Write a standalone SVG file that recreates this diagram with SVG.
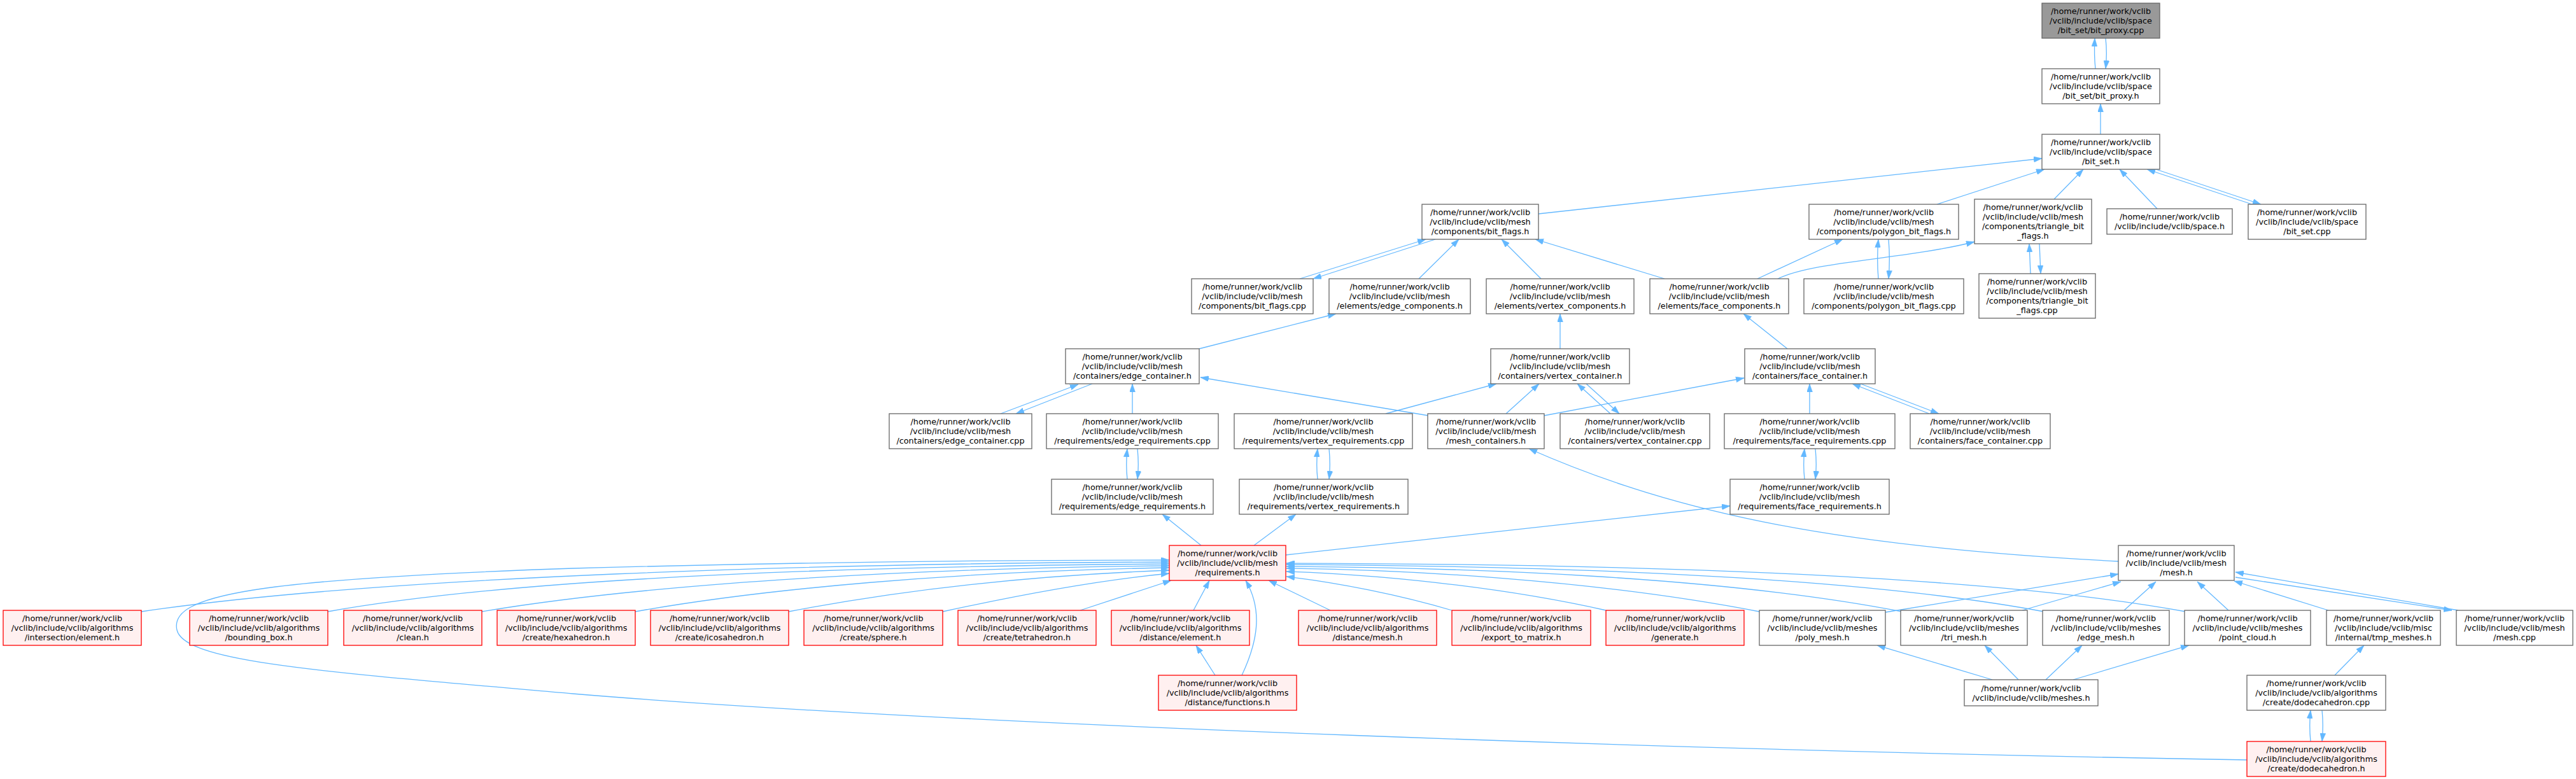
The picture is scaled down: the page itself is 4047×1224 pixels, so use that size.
<svg xmlns="http://www.w3.org/2000/svg" width="4047" height="1224" viewBox="0 0 4047 1224">
<style>
.n{fill:#ffffff;stroke:#666666;stroke-width:1.3}
.r{fill:#fff0f0;stroke:#ff0000;stroke-width:1.3}
.g{fill:#999999;stroke:#666666;stroke-width:1.3}
text{font-family:"DejaVu Sans",sans-serif;font-size:12.8px;fill:#000000;text-anchor:middle}
.e path{fill:none;stroke:#63b8ff;stroke-width:1.3;marker-end:url(#ah)}
</style>
<defs>
<marker id="ah" viewBox="0 0 13 9" refX="13" refY="4.5" markerWidth="13" markerHeight="9" markerUnits="userSpaceOnUse" orient="auto"><path d="M0,0 L13,4.5 L0,9 z" fill="#63b8ff" stroke="#63b8ff" stroke-width="0.5"/></marker>
</defs>
<rect x="0" y="0" width="4047" height="1224" fill="#ffffff"/>
<g id="edges" class="e">
<path d="M3292,108 C3290,90 3290,80 3291,60"/>
<path d="M3308,60 C3310,78 3310,90 3308,108"/>
<path d="M3300,211 L3300,163"/>
<path d="M2417,336 L3208,249"/>
<path d="M3043,321 L3212,266"/>
<path d="M3227,313 L3273,266"/>
<path d="M3389,328 L3330,266"/>
<path d="M3538,321 L3373,266"/>
<path d="M3387,266 L3552,321"/>
<path d="M2042,438 L2240,376"/>
<path d="M2255,376 L2063,438"/>
<path d="M2229,438 L2292,376"/>
<path d="M2421,438 L2359,376"/>
<path d="M2615,438 L2412,376"/>
<path d="M2761,438 L2895,376"/>
<path d="M2793,438 C2850,410 2990,408 3102,380"/>
<path d="M2951,438 C2949,415 2949,400 2951,376"/>
<path d="M2967,376 C2969,400 2969,415 2967,438"/>
<path d="M3190,430 L3188,383"/>
<path d="M3204,383 L3206,430"/>
<path d="M1884,548 L2099,493"/>
<path d="M2451,548 L2451,493"/>
<path d="M2808,548 L2739,493"/>
<path d="M1572,650 L1694,604"/>
<path d="M1716,603 L1596,650"/>
<path d="M1779,650 L1779,603"/>
<path d="M1771,753 C1769,735 1769,725 1771,705"/>
<path d="M1787,705 C1789,725 1789,735 1787,753"/>
<path d="M2244,653 L1886,593"/>
<path d="M2177,650 L2351,603"/>
<path d="M2366,650 L2418,603"/>
<path d="M2530,650 L2478,603"/>
<path d="M2492,603 L2544,650"/>
<path d="M2426,653 L2740,594"/>
<path d="M2843,650 L2843,603"/>
<path d="M3031,650 L2910,603"/>
<path d="M2923,603 L3046,650"/>
<path d="M2835,753 C2833,735 2833,725 2835,705"/>
<path d="M2852,705 C2854,725 2854,735 2852,753"/>
<path d="M2070,753 C2068,735 2068,725 2070,705"/>
<path d="M2088,705 C2090,725 2090,735 2088,753"/>
<path d="M1887,857 L1826,808"/>
<path d="M1970,857 L2036,808"/>
<path d="M2020,872 L2718,795"/>
<path d="M3328,882 C2900,860 2640,810 2402,705"/>
<path d="M3530,1194 C2700,1180 1500,1140 900,1090 C500,1055 290,1040 278,990 C265,935 400,910 900,893 C1300,882 1600,880 1837,880"/>
<path d="M222,961 C600,905 1300,885 1837,883"/>
<path d="M515,961 C800,910 1300,890 1837,886"/>
<path d="M757,961 C1000,920 1400,893 1837,889"/>
<path d="M998,961 C1200,925 1500,898 1837,892"/>
<path d="M1239,961 C1400,930 1600,905 1837,896"/>
<path d="M1481,961 C1600,935 1720,912 1837,901"/>
<path d="M1697,959 L1840,912"/>
<path d="M1875,959 L1900,912"/>
<path d="M1951,1061 C1975,1010 1985,960 1957,912"/>
<path d="M1909,1061 L1879,1014"/>
<path d="M2090,959 L1993,912"/>
<path d="M2281,959 C2200,935 2100,915 2021,906"/>
<path d="M2523,959 C2350,920 2150,902 2021,898"/>
<path d="M2764,961 C2500,910 2200,895 2021,893"/>
<path d="M2988,961 C2700,905 2300,892 2021,890"/>
<path d="M3211,961 C2900,903 2400,889 2021,887"/>
<path d="M3434,961 C3100,900 2500,886 2021,885"/>
<path d="M2962,962 L3328,902"/>
<path d="M3177,959 L3332,914"/>
<path d="M3337,959 L3387,914"/>
<path d="M3501,959 L3452,914"/>
<path d="M3658,959 L3510,913"/>
<path d="M3862,959 L3512,899"/>
<path d="M3512,907 L3852,959"/>
<path d="M3130,1068 L2949,1014"/>
<path d="M3171,1068 L3118,1014"/>
<path d="M3214,1068 L3271,1014"/>
<path d="M3257,1068 L3439,1014"/>
<path d="M3668,1061 L3714,1014"/>
<path d="M3630,1165 C3628,1145 3628,1135 3630,1116"/>
<path d="M3648,1116 C3650,1135 3650,1145 3648,1165"/>
</g>
<g id="n_bit_proxy_cpp"><rect class="g" x="3208" y="5" width="185" height="55"/><text><tspan x="3300.5" y="22">/home/runner/work/vclib</tspan><tspan x="3300.5" y="37">/vclib/include/vclib/space</tspan><tspan x="3300.5" y="52">/bit_set/bit_proxy.cpp</tspan></text></g>
<g id="n_bit_proxy_h"><rect class="n" x="3208" y="108" width="185" height="55"/><text><tspan x="3300.5" y="125">/home/runner/work/vclib</tspan><tspan x="3300.5" y="140">/vclib/include/vclib/space</tspan><tspan x="3300.5" y="155">/bit_set/bit_proxy.h</tspan></text></g>
<g id="n_bit_set_h"><rect class="n" x="3208" y="211" width="185" height="55"/><text><tspan x="3300.5" y="228">/home/runner/work/vclib</tspan><tspan x="3300.5" y="243">/vclib/include/vclib/space</tspan><tspan x="3300.5" y="258">/bit_set.h</tspan></text></g>
<g id="n_bit_flags_h"><rect class="n" x="2234" y="321" width="183" height="55"/><text><tspan x="2325.5" y="338">/home/runner/work/vclib</tspan><tspan x="2325.5" y="353">/vclib/include/vclib/mesh</tspan><tspan x="2325.5" y="368">/components/bit_flags.h</tspan></text></g>
<g id="n_polygon_bit_flags_h"><rect class="n" x="2842" y="321" width="235" height="55"/><text><tspan x="2959.5" y="338">/home/runner/work/vclib</tspan><tspan x="2959.5" y="353">/vclib/include/vclib/mesh</tspan><tspan x="2959.5" y="368">/components/polygon_bit_flags.h</tspan></text></g>
<g id="n_triangle_bit_flags_h"><rect class="n" x="3102" y="313" width="184" height="70"/><text><tspan x="3194" y="330">/home/runner/work/vclib</tspan><tspan x="3194" y="345">/vclib/include/vclib/mesh</tspan><tspan x="3194" y="360">/components/triangle_bit</tspan><tspan x="3194" y="375">_flags.h</tspan></text></g>
<g id="n_space_h"><rect class="n" x="3310" y="328" width="197" height="40"/><text><tspan x="3408.5" y="345">/home/runner/work/vclib</tspan><tspan x="3408.5" y="360">/vclib/include/vclib/space.h</tspan></text></g>
<g id="n_bit_set_cpp"><rect class="n" x="3532" y="321" width="185" height="55"/><text><tspan x="3624.5" y="338">/home/runner/work/vclib</tspan><tspan x="3624.5" y="353">/vclib/include/vclib/space</tspan><tspan x="3624.5" y="368">/bit_set.cpp</tspan></text></g>
<g id="n_bit_flags_cpp"><rect class="n" x="1872" y="438" width="191" height="55"/><text><tspan x="1967.5" y="455">/home/runner/work/vclib</tspan><tspan x="1967.5" y="470">/vclib/include/vclib/mesh</tspan><tspan x="1967.5" y="485">/components/bit_flags.cpp</tspan></text></g>
<g id="n_edge_components_h"><rect class="n" x="2088" y="438" width="222" height="55"/><text><tspan x="2199" y="455">/home/runner/work/vclib</tspan><tspan x="2199" y="470">/vclib/include/vclib/mesh</tspan><tspan x="2199" y="485">/elements/edge_components.h</tspan></text></g>
<g id="n_vertex_components_h"><rect class="n" x="2335" y="438" width="232" height="55"/><text><tspan x="2451" y="455">/home/runner/work/vclib</tspan><tspan x="2451" y="470">/vclib/include/vclib/mesh</tspan><tspan x="2451" y="485">/elements/vertex_components.h</tspan></text></g>
<g id="n_face_components_h"><rect class="n" x="2592" y="438" width="218" height="55"/><text><tspan x="2701" y="455">/home/runner/work/vclib</tspan><tspan x="2701" y="470">/vclib/include/vclib/mesh</tspan><tspan x="2701" y="485">/elements/face_components.h</tspan></text></g>
<g id="n_polygon_bit_flags_cpp"><rect class="n" x="2834" y="438" width="251" height="55"/><text><tspan x="2959.5" y="455">/home/runner/work/vclib</tspan><tspan x="2959.5" y="470">/vclib/include/vclib/mesh</tspan><tspan x="2959.5" y="485">/components/polygon_bit_flags.cpp</tspan></text></g>
<g id="n_triangle_bit_flags_cpp"><rect class="n" x="3109" y="430" width="183" height="70"/><text><tspan x="3200.5" y="447">/home/runner/work/vclib</tspan><tspan x="3200.5" y="462">/vclib/include/vclib/mesh</tspan><tspan x="3200.5" y="477">/components/triangle_bit</tspan><tspan x="3200.5" y="492">_flags.cpp</tspan></text></g>
<g id="n_edge_container_h"><rect class="n" x="1674" y="548" width="210" height="55"/><text><tspan x="1779" y="565">/home/runner/work/vclib</tspan><tspan x="1779" y="580">/vclib/include/vclib/mesh</tspan><tspan x="1779" y="595">/containers/edge_container.h</tspan></text></g>
<g id="n_vertex_container_h"><rect class="n" x="2342" y="548" width="218" height="55"/><text><tspan x="2451" y="565">/home/runner/work/vclib</tspan><tspan x="2451" y="580">/vclib/include/vclib/mesh</tspan><tspan x="2451" y="595">/containers/vertex_container.h</tspan></text></g>
<g id="n_face_container_h"><rect class="n" x="2741" y="548" width="205" height="55"/><text><tspan x="2843.5" y="565">/home/runner/work/vclib</tspan><tspan x="2843.5" y="580">/vclib/include/vclib/mesh</tspan><tspan x="2843.5" y="595">/containers/face_container.h</tspan></text></g>
<g id="n_edge_container_cpp"><rect class="n" x="1397" y="650" width="224" height="55"/><text><tspan x="1509" y="667">/home/runner/work/vclib</tspan><tspan x="1509" y="682">/vclib/include/vclib/mesh</tspan><tspan x="1509" y="697">/containers/edge_container.cpp</tspan></text></g>
<g id="n_edge_requirements_cpp"><rect class="n" x="1644" y="650" width="270" height="55"/><text><tspan x="1779" y="667">/home/runner/work/vclib</tspan><tspan x="1779" y="682">/vclib/include/vclib/mesh</tspan><tspan x="1779" y="697">/requirements/edge_requirements.cpp</tspan></text></g>
<g id="n_vertex_requirements_cpp"><rect class="n" x="1939" y="650" width="280" height="55"/><text><tspan x="2079" y="667">/home/runner/work/vclib</tspan><tspan x="2079" y="682">/vclib/include/vclib/mesh</tspan><tspan x="2079" y="697">/requirements/vertex_requirements.cpp</tspan></text></g>
<g id="n_mesh_containers_h"><rect class="n" x="2243" y="650" width="183" height="55"/><text><tspan x="2334.5" y="667">/home/runner/work/vclib</tspan><tspan x="2334.5" y="682">/vclib/include/vclib/mesh</tspan><tspan x="2334.5" y="697">/mesh_containers.h</tspan></text></g>
<g id="n_vertex_container_cpp"><rect class="n" x="2451" y="650" width="235" height="55"/><text><tspan x="2568.5" y="667">/home/runner/work/vclib</tspan><tspan x="2568.5" y="682">/vclib/include/vclib/mesh</tspan><tspan x="2568.5" y="697">/containers/vertex_container.cpp</tspan></text></g>
<g id="n_face_requirements_cpp"><rect class="n" x="2709" y="650" width="268" height="55"/><text><tspan x="2843" y="667">/home/runner/work/vclib</tspan><tspan x="2843" y="682">/vclib/include/vclib/mesh</tspan><tspan x="2843" y="697">/requirements/face_requirements.cpp</tspan></text></g>
<g id="n_face_container_cpp"><rect class="n" x="3001" y="650" width="220" height="55"/><text><tspan x="3111" y="667">/home/runner/work/vclib</tspan><tspan x="3111" y="682">/vclib/include/vclib/mesh</tspan><tspan x="3111" y="697">/containers/face_container.cpp</tspan></text></g>
<g id="n_edge_requirements_h"><rect class="n" x="1652" y="753" width="254" height="55"/><text><tspan x="1779" y="770">/home/runner/work/vclib</tspan><tspan x="1779" y="785">/vclib/include/vclib/mesh</tspan><tspan x="1779" y="800">/requirements/edge_requirements.h</tspan></text></g>
<g id="n_vertex_requirements_h"><rect class="n" x="1947" y="753" width="265" height="55"/><text><tspan x="2079.5" y="770">/home/runner/work/vclib</tspan><tspan x="2079.5" y="785">/vclib/include/vclib/mesh</tspan><tspan x="2079.5" y="800">/requirements/vertex_requirements.h</tspan></text></g>
<g id="n_face_requirements_h"><rect class="n" x="2718" y="753" width="250" height="55"/><text><tspan x="2843" y="770">/home/runner/work/vclib</tspan><tspan x="2843" y="785">/vclib/include/vclib/mesh</tspan><tspan x="2843" y="800">/requirements/face_requirements.h</tspan></text></g>
<g id="n_requirements_h"><rect class="r" x="1837" y="857" width="183" height="55"/><text><tspan x="1928.5" y="874">/home/runner/work/vclib</tspan><tspan x="1928.5" y="889">/vclib/include/vclib/mesh</tspan><tspan x="1928.5" y="904">/requirements.h</tspan></text></g>
<g id="n_mesh_h"><rect class="n" x="3328" y="857" width="182" height="55"/><text><tspan x="3419" y="874">/home/runner/work/vclib</tspan><tspan x="3419" y="889">/vclib/include/vclib/mesh</tspan><tspan x="3419" y="904">/mesh.h</tspan></text></g>
<g id="n_intersection_element_h"><rect class="r" x="5" y="959" width="217" height="55"/><text><tspan x="113.5" y="976">/home/runner/work/vclib</tspan><tspan x="113.5" y="991">/vclib/include/vclib/algorithms</tspan><tspan x="113.5" y="1006">/intersection/element.h</tspan></text></g>
<g id="n_bounding_box_h"><rect class="r" x="298" y="959" width="217" height="55"/><text><tspan x="406.5" y="976">/home/runner/work/vclib</tspan><tspan x="406.5" y="991">/vclib/include/vclib/algorithms</tspan><tspan x="406.5" y="1006">/bounding_box.h</tspan></text></g>
<g id="n_clean_h"><rect class="r" x="540" y="959" width="217" height="55"/><text><tspan x="648.5" y="976">/home/runner/work/vclib</tspan><tspan x="648.5" y="991">/vclib/include/vclib/algorithms</tspan><tspan x="648.5" y="1006">/clean.h</tspan></text></g>
<g id="n_hexahedron_h"><rect class="r" x="781" y="959" width="217" height="55"/><text><tspan x="889.5" y="976">/home/runner/work/vclib</tspan><tspan x="889.5" y="991">/vclib/include/vclib/algorithms</tspan><tspan x="889.5" y="1006">/create/hexahedron.h</tspan></text></g>
<g id="n_icosahedron_h"><rect class="r" x="1022" y="959" width="217" height="55"/><text><tspan x="1130.5" y="976">/home/runner/work/vclib</tspan><tspan x="1130.5" y="991">/vclib/include/vclib/algorithms</tspan><tspan x="1130.5" y="1006">/create/icosahedron.h</tspan></text></g>
<g id="n_sphere_h"><rect class="r" x="1263" y="959" width="218" height="55"/><text><tspan x="1372" y="976">/home/runner/work/vclib</tspan><tspan x="1372" y="991">/vclib/include/vclib/algorithms</tspan><tspan x="1372" y="1006">/create/sphere.h</tspan></text></g>
<g id="n_tetrahedron_h"><rect class="r" x="1505" y="959" width="217" height="55"/><text><tspan x="1613.5" y="976">/home/runner/work/vclib</tspan><tspan x="1613.5" y="991">/vclib/include/vclib/algorithms</tspan><tspan x="1613.5" y="1006">/create/tetrahedron.h</tspan></text></g>
<g id="n_distance_element_h"><rect class="r" x="1746" y="959" width="217" height="55"/><text><tspan x="1854.5" y="976">/home/runner/work/vclib</tspan><tspan x="1854.5" y="991">/vclib/include/vclib/algorithms</tspan><tspan x="1854.5" y="1006">/distance/element.h</tspan></text></g>
<g id="n_distance_mesh_h"><rect class="r" x="2040" y="959" width="217" height="55"/><text><tspan x="2148.5" y="976">/home/runner/work/vclib</tspan><tspan x="2148.5" y="991">/vclib/include/vclib/algorithms</tspan><tspan x="2148.5" y="1006">/distance/mesh.h</tspan></text></g>
<g id="n_export_to_matrix_h"><rect class="r" x="2281" y="959" width="218" height="55"/><text><tspan x="2390" y="976">/home/runner/work/vclib</tspan><tspan x="2390" y="991">/vclib/include/vclib/algorithms</tspan><tspan x="2390" y="1006">/export_to_matrix.h</tspan></text></g>
<g id="n_generate_h"><rect class="r" x="2523" y="959" width="217" height="55"/><text><tspan x="2631.5" y="976">/home/runner/work/vclib</tspan><tspan x="2631.5" y="991">/vclib/include/vclib/algorithms</tspan><tspan x="2631.5" y="1006">/generate.h</tspan></text></g>
<g id="n_poly_mesh_h"><rect class="n" x="2764" y="959" width="198" height="55"/><text><tspan x="2863" y="976">/home/runner/work/vclib</tspan><tspan x="2863" y="991">/vclib/include/vclib/meshes</tspan><tspan x="2863" y="1006">/poly_mesh.h</tspan></text></g>
<g id="n_tri_mesh_h"><rect class="n" x="2986" y="959" width="199" height="55"/><text><tspan x="3085.5" y="976">/home/runner/work/vclib</tspan><tspan x="3085.5" y="991">/vclib/include/vclib/meshes</tspan><tspan x="3085.5" y="1006">/tri_mesh.h</tspan></text></g>
<g id="n_edge_mesh_h"><rect class="n" x="3209" y="959" width="199" height="55"/><text><tspan x="3308.5" y="976">/home/runner/work/vclib</tspan><tspan x="3308.5" y="991">/vclib/include/vclib/meshes</tspan><tspan x="3308.5" y="1006">/edge_mesh.h</tspan></text></g>
<g id="n_point_cloud_h"><rect class="n" x="3432" y="959" width="198" height="55"/><text><tspan x="3531" y="976">/home/runner/work/vclib</tspan><tspan x="3531" y="991">/vclib/include/vclib/meshes</tspan><tspan x="3531" y="1006">/point_cloud.h</tspan></text></g>
<g id="n_tmp_meshes_h"><rect class="n" x="3655" y="959" width="179" height="55"/><text><tspan x="3744.5" y="976">/home/runner/work/vclib</tspan><tspan x="3744.5" y="991">/vclib/include/vclib/misc</tspan><tspan x="3744.5" y="1006">/internal/tmp_meshes.h</tspan></text></g>
<g id="n_mesh_cpp"><rect class="n" x="3859" y="959" width="183" height="55"/><text><tspan x="3950.5" y="976">/home/runner/work/vclib</tspan><tspan x="3950.5" y="991">/vclib/include/vclib/mesh</tspan><tspan x="3950.5" y="1006">/mesh.cpp</tspan></text></g>
<g id="n_distance_functions_h"><rect class="r" x="1820" y="1061" width="217" height="55"/><text><tspan x="1928.5" y="1078">/home/runner/work/vclib</tspan><tspan x="1928.5" y="1093">/vclib/include/vclib/algorithms</tspan><tspan x="1928.5" y="1108">/distance/functions.h</tspan></text></g>
<g id="n_meshes_h"><rect class="n" x="3086" y="1068" width="210" height="41"/><text><tspan x="3191" y="1085.5">/home/runner/work/vclib</tspan><tspan x="3191" y="1100.5">/vclib/include/vclib/meshes.h</tspan></text></g>
<g id="n_dodecahedron_cpp"><rect class="n" x="3530" y="1061" width="218" height="55"/><text><tspan x="3639" y="1078">/home/runner/work/vclib</tspan><tspan x="3639" y="1093">/vclib/include/vclib/algorithms</tspan><tspan x="3639" y="1108">/create/dodecahedron.cpp</tspan></text></g>
<g id="n_dodecahedron_h"><rect class="r" x="3530" y="1165" width="218" height="55"/><text><tspan x="3639" y="1182">/home/runner/work/vclib</tspan><tspan x="3639" y="1197">/vclib/include/vclib/algorithms</tspan><tspan x="3639" y="1212">/create/dodecahedron.h</tspan></text></g>
</svg>
